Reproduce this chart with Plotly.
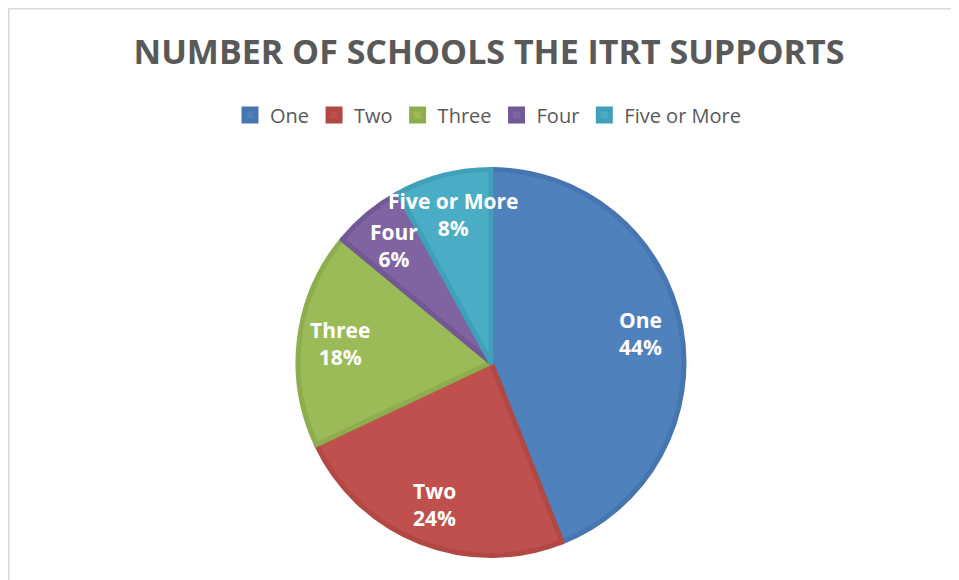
import math
import plotly.graph_objects as go

categories = ["One", "Two", "Three", "Four", "Five or More"]
percents = [44, 24, 18, 6, 8]
fill_colors = ["#4F81BD", "#C0504D", "#9BBB59", "#8064A2", "#4BACC6"]
edge_colors = ["#4675B0", "#B24843", "#8EAD4E", "#735896", "#40A0BA"]
title_text = "NUMBER OF SCHOOLS THE ITRT SUPPORTS"

# the page adds an 8px body margin, so the figure is sized to the visible area
OFF = 8
W, H = 959 - OFF, 580 - OFF
# pie geometry in (figure) pixels
CX, CY, R = 491 - OFF, 362.5 - OFF, 193

fig = go.Figure()
fig.add_trace(go.Pie(
    labels=categories,
    values=percents,
    sort=False,
    direction="clockwise",
    rotation=0,
    textinfo="none",
    hoverinfo="label+percent",
    marker=dict(colors=fill_colors, line=dict(color=edge_colors, width=5)),
    domain=dict(x=[(CX - R) / W, (CX + R) / W], y=[1 - (CY + R) / H, 1 - (CY - R) / H]),
))

# data labels placed at slice mid-angles, computed from the values
total = sum(percents)
cum = 0
label_r = 0.79 * R
for cat, v in zip(categories, percents):
    mid = (cum + v / 2) / total * 2 * math.pi
    cum += v
    px = CX + label_r * math.sin(mid)
    py = CY - label_r * math.cos(mid)
    fig.add_annotation(
        x=px / W, y=1 - py / H, xref="paper", yref="paper",
        text=f"<b>{cat}<br>{v}%</b>", showarrow=False,
        font=dict(family="Open Sans", size=21, color="white"),
        align="center", xanchor="center", yanchor="middle",
    )

fig.update_layout(
    width=W, height=H,
    margin=dict(l=0, r=0, t=0, b=0),
    paper_bgcolor="white",
    title=dict(
        text=f"<b>{title_text}</b>",
        x=(489 - OFF) / W, xanchor="center", y=1 - (52 - OFF) / H, yanchor="middle",
        font=dict(family="Open Sans", size=34, color="#595959"),
    ),
    legend=dict(
        orientation="h", x=(488 - OFF) / W, xanchor="center", y=1 - (115 - OFF) / H, yanchor="middle",
        font=dict(family="Open Sans", size=20, color="#595959"),
        traceorder="normal",
    ),
    shapes=[
        dict(type="line", xref="paper", yref="paper", x0=0, y0=1, x1=1, y1=1,
             line=dict(color="#D9D9D9", width=3)),
        dict(type="line", xref="paper", yref="paper", x0=0, y0=1, x1=0, y1=0,
             line=dict(color="#D9D9D9", width=3)),
    ],
)

fig.write_html("out.html")
